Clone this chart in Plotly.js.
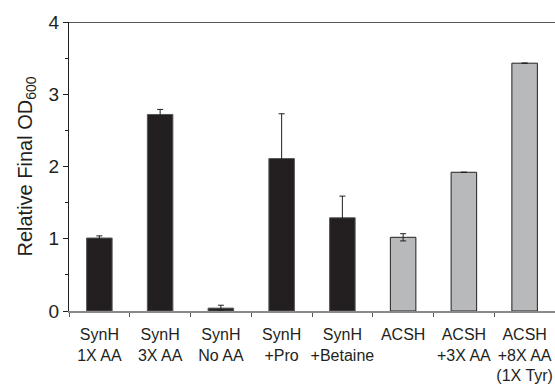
<!DOCTYPE html>
<html>
<head>
<meta charset="utf-8">
<script src="https://cdn.plot.ly/plotly-3.0.1.min.js"></script>
<style>html,body{margin:0;padding:0;background:#fff;}#chart{width:555px;height:388px;}</style>
</head>
<body>
<div id="chart"></div>
<script>
const categories = ["SynH<br>1X AA", "SynH<br>3X AA", "SynH<br>No AA", "SynH<br>+Pro", "SynH<br>+Betaine", "ACSH", "ACSH<br>+3X AA", "ACSH<br>+8X AA<br>(1X Tyr)"];
const values = [1.01, 2.72, 0.04, 2.11, 1.29, 1.02, 1.92, 3.43];
const errors = [0.03, 0.07, 0.04, 0.62, 0.30, 0.05, null, null];
const groups = ["SynH", "SynH", "SynH", "SynH", "SynH", "ACSH", "ACSH", "ACSH"];
const yTicks = [0, 1, 2, 3, 4];

const colorFor = {SynH: "#231f20", ACSH: "#b8b9bb"};
const lineFor = {SynH: "#555555", ACSH: "#231f20"};

const trace = {
  type: "bar",
  x: categories,
  y: values,
  marker: {
    color: groups.map(g => colorFor[g]),
    line: {color: groups.map(g => lineFor[g]), width: 1}
  },
  error_y: {type: "data", array: errors, visible: true, color: "#231f20", thickness: 1, width: 3},
  hoverinfo: "skip"
};

const layout = {
  width: 555, height: 388,
  margin: {l: 69, r: 0, t: 22, b: 77},
  paper_bgcolor: "#fff", plot_bgcolor: "#fff",
  font: {family: "Liberation Sans, Arial, sans-serif", color: "#231f20"},
  bargap: 0.58,
  showlegend: false,
  xaxis: {
    type: "category",
    range: [-0.5, 7.5],
    showline: true, linecolor: "#8a8a8a", linewidth: 1.5,
    ticks: "outside", tickson: "boundaries", ticklen: 4, tickcolor: "#555", tickwidth: 1,
    tickangle: 0, automargin: false, ticklabelstandoff: 8,
    tickfont: {size: 16, color: "#231f20"},
    showgrid: false, zeroline: false, fixedrange: true
  },
  yaxis: {
    range: [0, 4],
    tickvals: yTicks,
    ticktext: yTicks.map(String),
    showline: true, linecolor: "#231f20", linewidth: 1,
    ticks: "outside", ticklen: 5, tickcolor: "#231f20", tickwidth: 1,
    minor: {dtick: 0.5, ticks: "outside", ticklen: 3, tickcolor: "#231f20"},
    tickfont: {size: 19, color: "#231f20"},
    showgrid: false, zeroline: false, automargin: false,
    title: {text: "Relative Final OD<sub>600</sub>", font: {size: 20, color: "#231f20"}, standoff: 10},
    fixedrange: true
  },
  shapes: [{
    type: "line", xref: "paper", yref: "y", x0: 0, x1: 1, y0: 4, y1: 4,
    line: {color: "#231f20", width: 1.5}
  }]
};

Plotly.newPlot("chart", [trace], layout, {displayModeBar: false, staticPlot: true});
</script>
</body>
</html>
